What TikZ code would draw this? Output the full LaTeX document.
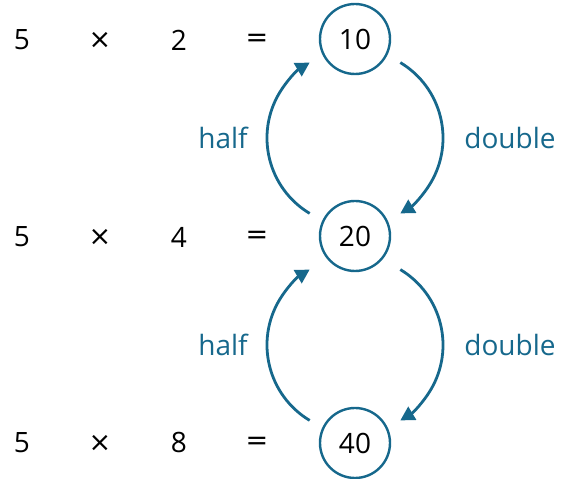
\documentclass[tikz,border=0pt]{standalone}
\usepackage{fontspec}
\setmainfont{Open Sans}
\newfontfamily\opfont{DejaVu Sans}
\usetikzlibrary{arrows.meta}
\definecolor{cycblue}{RGB}{22,104,140}

\begin{document}
\begin{tikzpicture}[x=1pt,y=1pt,
  every node/.style={font=\fontsize{28}{32}\selectfont},
  op/.style={font=\opfont\fontsize{27}{32}\selectfont},
  num/.style={draw=cycblue,circle,line width=2.4pt,minimum size=70pt,inner sep=0pt},
  lab/.style={text=cycblue},
  cyc/.style={draw=cycblue,line width=2.8pt,-{Triangle[length=14pt,width=15pt]}}
]
  \useasboundingbox (0,0) rectangle (566,479);

  % top row
  \node (fivea)      at ( 22,439) {5};
  \node[op] (timesa) at (100,439) {×};
  \node (twoa)       at (179,439) {2};
  \node[op] (eqa)    at (257,439) {=};
  \node[num] (ten)   at (355,440) {10};

  % middle row
  \node (fiveb)      at ( 22,242) {5};
  \node[op] (timesb) at (100,242) {×};
  \node (fourb)      at (179,242) {4};
  \node[op] (eqb)    at (257,242) {=};
  \node[num] (twenty) at (355,243) {20};

  % bottom row
  \node (fivec)      at ( 22,36) {5};
  \node[op] (timesc) at (100,36) {×};
  \node (eightc)     at (179,36) {8};
  \node[op] (eqc)    at (257,36) {=};
  \node[num] (forty) at (355,36) {40};

  % arc centres
  \coordinate (mone) at (355,341);
  \coordinate (mtwo) at (355,134);

  % labels
  \node[lab] (halfa)   at (223,341) {half};
  \node[lab] (doublea) at (510,341) {double};
  \node[lab] (halfb)   at (223,134) {half};
  \node[lab] (doubleb) at (510,134) {double};

  % arrows
  \draw[cyc] (mone) ++(239:88) arc[start angle=239,end angle=121,radius=88];
  \draw[cyc] (mone) ++(59:88) arc[start angle=59,end angle=-59,radius=88];
  \draw[cyc] (mtwo) ++(239:88) arc[start angle=239,end angle=121,radius=88];
  \draw[cyc] (mtwo) ++(59:88) arc[start angle=59,end angle=-59,radius=88];
\end{tikzpicture}
\end{document}
